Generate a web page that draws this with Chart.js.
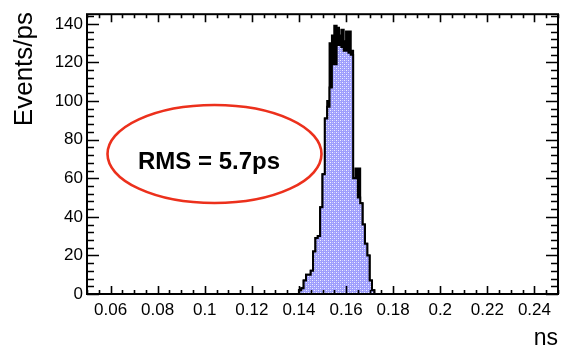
<!DOCTYPE html>
<html>
<head>
<meta charset="utf-8">
<script src="https://cdn.jsdelivr.net/npm/chart.js@4/dist/chart.umd.min.js"></script>
<style>
  html, body { margin: 0; padding: 0; background: #fff; }
  canvas { display: block; }
</style>
</head>
<body>
<canvas id="c" width="561" height="351"></canvas>
<script>
// Time-difference histogram, 1 ps bins (lower bin edges in ns)
const binLow = [
  0.140, 0.141, 0.142, 0.143, 0.144, 0.145, 0.146, 0.147, 0.148, 0.149,
  0.150, 0.151, 0.152, 0.153, 0.154, 0.155, 0.156, 0.157, 0.158, 0.159,
  0.160, 0.161, 0.162, 0.163, 0.164, 0.165, 0.166, 0.167, 0.168, 0.169,
  0.170, 0.171, 0.172
];
const binWidth = 0.001;

// All events (solid black histogram)
const allEvents = [
  1, 2, 3, 7, 10, 10, 12, 22, 29, 30,
  45, 62, 91, 100, 130, 134, 139, 138, 134, 137,
  131, 136, 136, 126, 60, 65, 65, 47, 36, 26,
  20, 7, 2
];

// Selected events (hatched blue histogram)
const selectedEvents = [
  1, 2, 3, 7, 10, 10, 12, 22, 29, 30,
  45, 62, 91, 97, 107, 119, 119, 129, 129, 128,
  126, 126, 125, 124, 60, 60, 50, 47, 36, 26,
  20, 7, 2
];

const xTickValues = [0.06, 0.08, 0.1, 0.12, 0.14, 0.16, 0.18, 0.2, 0.22, 0.24];
const yTickValues = [0, 20, 40, 60, 80, 100, 120, 140];
const xTitle = 'ns';
const yTitle = 'Events/ps';
const rmsLabel = 'RMS = 5.7ps';

const FONT = "'Liberation Sans', Arial, Helvetica, sans-serif";
Chart.defaults.font.family = FONT;
Chart.defaults.color = '#000';

// Build a closed step outline from per-bin contents
function stepPoints(values) {
  const pts = [{ x: binLow[0], y: 0 }];
  values.forEach((v, i) => pts.push({ x: binLow[i], y: v }));
  pts.push({ x: binLow[values.length - 1] + binWidth, y: 0 });
  return pts;
}

// Fine dotted fill pattern
function dotPattern() {
  const c = document.createElement('canvas');
  c.width = 4; c.height = 4;
  const g = c.getContext('2d');
  g.fillStyle = 'rgb(158,158,252)';
  g.fillRect(0, 0, 4, 4);
  g.fillStyle = 'rgb(240,240,255)';
  g.fillRect(0, 0, 1, 1);
  g.fillRect(2, 2, 1, 1);
  g.fillStyle = 'rgb(196,196,255)';
  g.fillRect(2, 0, 1, 1);
  g.fillRect(0, 2, 1, 1);
  return g.createPattern(c, 'repeat');
}

// Frame, inward ticks on all four sides, axis titles and the RMS note
const framePlugin = {
  id: 'frame',
  afterDatasetsDraw(chart) {
    const { ctx, chartArea: a, scales: { x, y } } = chart;
    ctx.save();
    ctx.strokeStyle = '#000';
    ctx.lineWidth = 1.6;
    ctx.lineCap = 'butt';
    ctx.beginPath();
    // x ticks: major every 0.02, minor every 0.005
    for (let k = 0; k <= 40; k++) {
      const v = 0.05 + k * 0.005;
      const px = Math.round(x.getPixelForValue(v)) + 0.5;
      const major = xTickValues.some(t => Math.abs(t - v) < 1e-9);
      const len = major ? 8 : 4;
      ctx.moveTo(px, a.bottom); ctx.lineTo(px, a.bottom - len);
      ctx.moveTo(px, a.top); ctx.lineTo(px, a.top + len);
    }
    // y ticks: major every 20, minor every 4
    for (let v = 0; v <= 144; v += 4) {
      const py = Math.round(y.getPixelForValue(v)) + 0.5;
      const major = v % 20 === 0;
      const len = major ? 12 : 7;
      ctx.moveTo(a.left, py); ctx.lineTo(a.left + len, py);
      ctx.moveTo(a.right, py); ctx.lineTo(a.right - len, py);
    }
    ctx.stroke();
    ctx.lineWidth = 2;
    ctx.strokeRect(a.left, a.top, a.right - a.left, a.bottom - a.top);

    // axis titles
    ctx.fillStyle = '#000';
    ctx.font = '23px ' + FONT;
    ctx.textAlign = 'right';
    ctx.textBaseline = 'alphabetic';
    ctx.fillText(xTitle, a.right, 345);
    ctx.save();
    ctx.translate(32, 12);
    ctx.rotate(-Math.PI / 2);
    ctx.font = '26px ' + FONT;
    ctx.textAlign = 'right';
    ctx.fillText(yTitle, 0, 0);
    ctx.restore();

    // RMS note in a red ellipse
    ctx.beginPath();
    ctx.ellipse(214.5, 154, 107, 49, 0, 0, Math.PI * 2);
    ctx.strokeStyle = 'rgb(236,48,28)';
    ctx.lineWidth = 2.6;
    ctx.stroke();
    ctx.font = 'bold 24px ' + FONT;
    ctx.textAlign = 'center';
    ctx.fillStyle = '#000';
    ctx.fillText(rmsLabel, 209, 169);
    ctx.restore();
  }
};

new Chart(document.getElementById('c'), {
  type: 'line',
  data: {
    datasets: [
      {
        label: 'selected',
        data: stepPoints(selectedEvents),
        stepped: 'after',
        fill: 'origin',
        backgroundColor: dotPattern(),
        borderColor: '#000',
        borderWidth: 2,
        pointRadius: 0,
        order: 0
      },
      {
        label: 'all',
        data: stepPoints(allEvents),
        stepped: 'after',
        fill: 'origin',
        backgroundColor: '#000',
        borderColor: '#000',
        borderWidth: 2,
        pointRadius: 0,
        order: 1
      }
    ]
  },
  options: {
    responsive: false,
    animation: false,
    layout: { padding: { left: 0, right: 3, top: 13, bottom: 0 } },
    plugins: { legend: { display: false }, tooltip: { enabled: false } },
    scales: {
      x: {
        type: 'linear',
        min: 0.05,
        max: 0.25,
        grid: { display: false, drawTicks: false },
        border: { display: false },
        afterBuildTicks: s => { s.ticks = xTickValues.map(v => ({ value: v })); },
        afterFit: s => { s.height = 57; },
        ticks: {
          autoSkip: false,
          maxRotation: 0,
          padding: 6,
          font: { size: 17 },
          color: '#000',
          callback: v => String(v)
        }
      },
      y: {
        type: 'linear',
        min: 0,
        max: 145,
        grid: { display: false, drawTicks: false },
        border: { display: false },
        afterBuildTicks: s => { s.ticks = yTickValues.map(v => ({ value: v })); },
        afterFit: s => { s.width = 87; },
        ticks: {
          autoSkip: false,
          padding: 4,
          font: { size: 17 },
          color: '#000',
          callback: v => String(v)
        }
      }
    }
  },
  plugins: [framePlugin]
});
</script>
</body>
</html>
